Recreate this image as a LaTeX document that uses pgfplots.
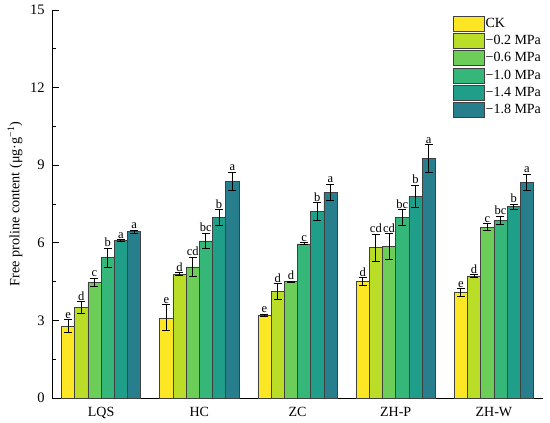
\documentclass[border=0pt]{standalone}
\usepackage{pgfplots}
\pgfplotsset{compat=1.18}
\usepackage{pgfplotstable}
\usepackage{fontspec}
\setmainfont{Liberation Serif}
\definecolor{c1}{HTML}{FDE725}
\definecolor{c2}{HTML}{BADE28}
\definecolor{c3}{HTML}{6CCE59}
\definecolor{c4}{HTML}{35B779}
\definecolor{c5}{HTML}{1F9E89}
\definecolor{c6}{HTML}{277F8E}
\pgfplotstableread{
x y e l
0 2.77 0.25 e
1 3.10 0.50 e
2 3.20 0.05 e
3 4.50 0.16 d
4 4.07 0.15 e
}\tA
\pgfplotstableread{
x y e l
0 3.50 0.22 d
1 4.80 0.05 d
2 4.12 0.30 d
3 5.82 0.52 cd
4 4.72 0.05 d
}\tB
\pgfplotstableread{
x y e l
0 4.47 0.16 c
1 5.07 0.37 cd
2 4.50 0.02 d
3 5.85 0.50 cd
4 6.60 0.14 c
}\tC
\pgfplotstableread{
x y e l
0 5.42 0.37 b
1 6.07 0.30 bc
2 5.96 0.04 c
3 6.98 0.30 bc
4 6.87 0.15 bc
}\tD
\pgfplotstableread{
x y e l
0 6.10 0.03 a
1 6.98 0.30 b
2 7.20 0.35 b
3 7.80 0.43 b
4 7.40 0.10 b
}\tE
\pgfplotstableread{
x y e l
0 6.43 0.05 a
1 8.38 0.36 a
2 7.96 0.31 a
3 9.27 0.53 a
4 8.35 0.31 a
}\tF
\begin{document}
\fontsize{14}{16}\selectfont
\begin{tikzpicture}
\begin{axis}[
  scale only axis,
  width=491pt, height=388pt,
  ybar=0pt,
  bar width=13.2pt,
  xmin=-0.5, xmax=4.5,
  ymin=0, ymax=15,
  axis x line*=bottom,
  axis y line*=left,
  axis line style={line width=0.9pt, black},
  xtick={0,1,2,3,4},
  xticklabels={LQS,HC,ZC,ZH-P,ZH-W},
  x tick style={draw=none},
  xticklabel style={yshift=-4pt, font=\fontsize{14}{16}\selectfont},
  ytick={0,3,...,15},
  minor ytick={1.5,4.5,...,13.5},
  tick align=inside,
  major tick length=7pt,
  minor tick length=4pt,
  y tick style={line width=0.8pt, black},
  yticklabel style={xshift=-2.5pt, font=\fontsize{14.5}{16}\selectfont},
  /pgf/number format/assume math mode=true,
  legend image code/.code={\draw[#1,line width=0.7pt] (0pt,-7.5pt) rectangle (31pt,7.5pt);},
  legend style={draw=none, fill=none, at={(0.81,0.99)}, anchor=north west,
    row sep=1.5pt, font=\fontsize{14}{16}\selectfont,
    nodes={inner sep=1pt, text depth=0.2em, text height=0.72em, anchor=west}},
  legend cell align=left,
  point meta=explicit symbolic,
  nodes near coords,
  visualization depends on={\thisrow{e} \as \myerr},
  every node near coord/.append style={anchor=south, inner sep=1pt, yshift={\myerr*25.867pt}, font=\fontsize{12.5}{13}\selectfont, black},
  error bars/y dir=both,
  error bars/y explicit,
  error bars/error bar style={line width=0.8pt, black},
  error bars/error mark options={line width=0.8pt, black, mark size=4pt, rotate=90},
  clip=false,
]
\addplot[fill=c1, draw=black!75, line width=0.6pt] table[x=x, y=y, y error=e, meta=l] {\tA};
\addplot[fill=c2, draw=black!75, line width=0.6pt] table[x=x, y=y, y error=e, meta=l] {\tB};
\addplot[fill=c3, draw=black!75, line width=0.6pt] table[x=x, y=y, y error=e, meta=l] {\tC};
\addplot[fill=c4, draw=black!75, line width=0.6pt] table[x=x, y=y, y error=e, meta=l] {\tD};
\addplot[fill=c5, draw=black!75, line width=0.6pt] table[x=x, y=y, y error=e, meta=l] {\tE};
\addplot[fill=c6, draw=black!75, line width=0.6pt] table[x=x, y=y, y error=e, meta=l] {\tF};
\legend{CK,−0.2 MPa,−0.6 MPa,−1.0 MPa,−1.4 MPa,−1.8 MPa}
\end{axis}
\path (current axis.west) ++(-37pt,0pt) node[rotate=90, anchor=center, inner sep=0pt, font=\fontsize{14.2}{16}\selectfont] {Free proline content (μg·g\textsuperscript{−1})};
\pgfresetboundingbox
\path (current axis.south west) ++(-52pt,-25pt) rectangle ++(550pt,423pt);
\end{tikzpicture}
\end{document}
